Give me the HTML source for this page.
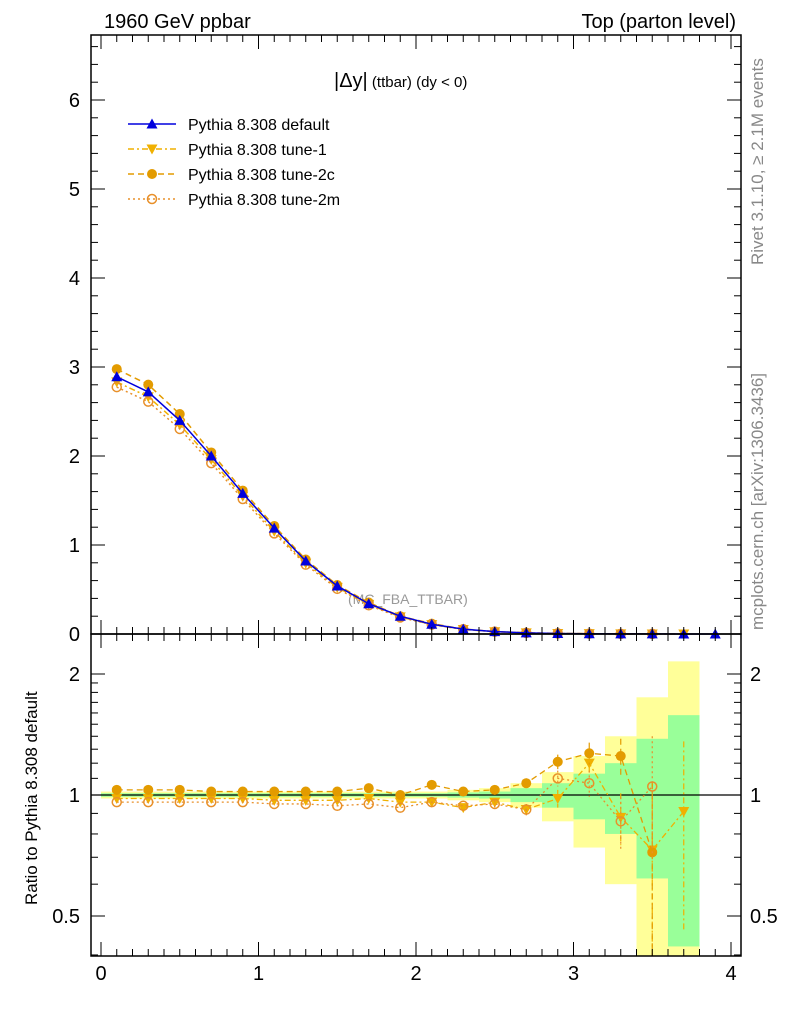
<!DOCTYPE html>
<html><head><meta charset="utf-8"><style>
body{margin:0;background:#fff}
svg{font-family:"Liberation Sans",sans-serif}
</style></head><body>
<svg id="c" width="786" height="1024" viewBox="0 0 786 1024">
<text x="104" y="28" font-size="20">1960 GeV ppbar</text>
<text x="736" y="28" font-size="20" text-anchor="end">Top (parton level)</text>
<text x="0" y="0" font-size="17" fill="#888" transform="translate(763,265) rotate(-90)">Rivet 3.1.10, ≥ 2.1M events</text>
<text x="0" y="0" font-size="17" fill="#888" transform="translate(763,630) rotate(-90)">mcplots.cern.ch [arXiv:1306.3436]</text>
<text x="0" y="0" font-size="17" transform="translate(37,905) rotate(-90)">Ratio to Pythia 8.308 default</text>
<text x="334" y="87" font-size="20">|Δy|<tspan font-size="15"> (ttbar) (dy &lt; 0)</tspan></text>
<text x="348" y="604" font-size="14" fill="#999">(MC_FBA_TTBAR)</text>
<g id="bands"></g><g id="series"></g><g id="axes"></g><g id="legend"></g>
</svg>
<script>
const xs=[0.1,0.3,0.5,0.7,0.9,1.1,1.3,1.5,1.7,1.9,2.1,2.3,2.5,2.7,2.9,3.1,3.3,3.5,3.7,3.9];
const defVals=[2.89,2.72,2.40,2.00,1.58,1.19,0.82,0.54,0.34,0.20,0.11,0.055,0.027,0.013,0.006,0.003,0.0015,0.0008,0.0004,0.0002];
const r1=[0.98,0.98,0.98,0.98,0.98,0.97,0.97,0.97,0.98,0.96,0.96,0.93,0.96,0.92,0.98,1.2,0.88,0.73,0.91,null];
const r2c=[1.03,1.03,1.03,1.02,1.02,1.02,1.02,1.02,1.04,1.0,1.06,1.02,1.03,1.07,1.21,1.27,1.25,0.72,null,null];
const r2m=[0.96,0.96,0.96,0.96,0.96,0.95,0.95,0.94,0.95,0.93,0.96,0.94,0.95,0.92,1.1,1.07,0.86,1.05,null,null];
const rErr=[0.005,0.005,0.005,0.005,0.005,0.006,0.006,0.007,0.008,0.01,0.01,0.015,0.02,0.03,0.05,0.08,0.13,0.35,0.45,0];
const yelUp=[1.02,1.02,1.02,1.02,1.02,1.02,1.02,1.02,1.02,1.02,1.02,1.03,1.04,1.07,1.14,1.25,1.40,1.75,2.15];
const yelDn=[0.98,0.98,0.98,0.98,0.98,0.98,0.98,0.98,0.98,0.98,0.98,0.97,0.96,0.93,0.86,0.74,0.60,0.3,0.3];
const grnUp=[1.01,1.01,1.01,1.01,1.01,1.01,1.01,1.01,1.01,1.01,1.01,1.015,1.02,1.04,1.07,1.13,1.20,1.38,1.58];
const grnDn=[0.99,0.99,0.99,0.99,0.99,0.99,0.99,0.99,0.99,0.99,0.99,0.985,0.98,0.96,0.93,0.87,0.80,0.62,0.42];
const mainTicks=[0,1,2,3,4,5,6];
const ratioTicks=[0.5,1,2];
const xTicks=[0,1,2,3,4];
const L=91,R=741,T=35,MB=634,RB=956;
const X=v=>101+v*157.5;
const Y=v=>634-v*89;
const YR=v=>{let y=795-121*Math.log2(v);return Math.max(T+600,Math.min(RB,y));};
const NS="http://www.w3.org/2000/svg";
function el(t,a,p){const e=document.createElementNS(NS,t);for(const k in a)e.setAttribute(k,a[k]);document.getElementById(p).appendChild(e);return e;}
for(let i=0;i<yelUp.length;i++){
 const x0=X(i*0.2),w=X(0.2)-X(0);
 let e=el('rect',{x:x0,y:YR(yelUp[i]),width:w,height:YR(yelDn[i])-YR(yelUp[i]),fill:'#ffff99'},'bands');
 
 
 e=el('rect',{x:x0,y:YR(grnUp[i]),width:w,height:YR(grnDn[i])-YR(grnUp[i]),fill:'#99ff99'},'bands');
 
 
}
let e=el('line',{x1:L,x2:R,y1:YR(1),y2:YR(1),stroke:'#000','stroke-width':1.2},'bands');


const series=[
 {n:'tune-1',r:r1,c:'#f0b000',dash:'6,3,2,3',m:'tri-down'},
 {n:'tune-2c',r:r2c,c:'#e39b00',dash:'6,4',m:'dot'},
 {n:'tune-2m',r:r2m,c:'#e8902a',dash:'2,3',m:'ring'}];
function marker(m,x,y,c,p,name){
 let e;
 if(m==='dot')e=el('circle',{cx:x,cy:y,r:5,fill:c},p);
 else if(m==='ring')e=el('circle',{cx:x,cy:y,r:4.5,fill:'none',stroke:c,'stroke-width':1.5},p);
 else if(m==='tri-down')e=el('path',{d:`M${x-5.5},${y-4.5}L${x+5.5},${y-4.5}L${x},${y+5.5}Z`,fill:c},p);
 else e=el('path',{d:`M${x-5.5},${y+4.5}L${x+5.5},${y+4.5}L${x},${y-5.5}Z`,fill:c},p);
 
 
}
series.forEach(s=>{
 const pts=xs.map((x,i)=>s.r[i]==null?null:[X(x),Y(defVals[i]*s.r[i])]).filter(p=>p);
 let l=el('polyline',{points:pts.map(p=>p.join(',')).join(' '),fill:'none',stroke:s.c,'stroke-width':1.5,'stroke-dasharray':s.dash},'series');
 
 
 pts.forEach(p=>marker(s.m,p[0],p[1],s.c,'series','main-point-'+s.n));
 const rp=xs.map((x,i)=>s.r[i]==null?null:[X(x),YR(s.r[i]),i]).filter(p=>p);
 l=el('polyline',{points:rp.map(p=>p[0]+','+p[1]).join(' '),fill:'none',stroke:s.c,'stroke-width':1.3,'stroke-dasharray':s.dash},'series');
 
 
 rp.forEach(p=>{
  const i=p[2];
  if(rErr[i]>0.015){const b=el('line',{x1:p[0],x2:p[0],y1:YR(s.r[i]+rErr[i]),y2:YR(Math.max(0.3,s.r[i]-rErr[i])),stroke:s.c,'stroke-width':1.2,'stroke-dasharray':s.dash},'series');
   
   }
  marker(s.m,p[0],p[1],s.c,'series','ratio-point-'+s.n);
 });
});
const dp=xs.map((x,i)=>[X(x),Y(defVals[i])]);
let dl=el('polyline',{points:dp.map(p=>p.join(',')).join(' '),fill:'none',stroke:'#0000dd','stroke-width':1.5},'series');


dp.forEach(p=>marker('tri-up',p[0],p[1],'#0000dd','series','main-point-default'));
['main','ratio'].forEach(k=>{
 const top=k==='main'?T:MB,bot=k==='main'?MB:RB;
 const f=el('rect',{x:L,y:top,width:R-L,height:bot-top,fill:'none',stroke:'#000','stroke-width':1.5},'axes');
 
 
 for(let v=0;v<=4.05;v+=0.1){const big=Math.abs(v-Math.round(v))<1e-6,len=big?14:7;
  el('line',{x1:X(v),x2:X(v),y1:bot,y2:bot-len,stroke:'#000'},'axes');
  el('line',{x1:X(v),x2:X(v),y1:top,y2:top+len,stroke:'#000'},'axes');}
});
for(let v=0;v<=6.7;v+=0.2){const big=Math.abs(v-Math.round(v))<1e-6,len=big?14:7;
 el('line',{x1:L,x2:L+len,y1:Y(v),y2:Y(v),stroke:'#000'},'axes');
 el('line',{x1:R,x2:R-len,y1:Y(v),y2:Y(v),stroke:'#000'},'axes');}
mainTicks.forEach(v=>{const t=el('text',{x:80,y:Y(v)+7,'font-size':20,'text-anchor':'end'},'axes');t.textContent=v;
 
 });
[0.4,0.5,0.6,0.7,0.8,0.9,1,1.1,1.2,1.3,1.4,1.5,1.6,1.7,1.8,1.9,2].forEach(v=>{const big=ratioTicks.includes(v),len=big?14:7;
 el('line',{x1:L,x2:L+len,y1:YR(v),y2:YR(v),stroke:'#000'},'axes');
 el('line',{x1:R,x2:R-len,y1:YR(v),y2:YR(v),stroke:'#000'},'axes');});
ratioTicks.forEach(v=>{let t=el('text',{x:80,y:YR(v)+7,'font-size':20,'text-anchor':'end'},'axes');t.textContent=v;
 
 
 t=el('text',{x:750,y:YR(v)+7,'font-size':20},'axes');t.textContent=v;
 
 });
xTicks.forEach(v=>{const t=el('text',{x:X(v),y:980,'font-size':20,'text-anchor':'middle'},'axes');t.textContent=v;
 
 });
const leg=[['Pythia 8.308 default','#0000dd','','tri-up'],['Pythia 8.308 tune-1','#f0b000','6,3,2,3','tri-down'],['Pythia 8.308 tune-2c','#e39b00','6,4','dot'],['Pythia 8.308 tune-2m','#e8902a','2,3','ring']];
leg.forEach((g,i)=>{const y=124+i*25;
 const l=el('line',{x1:128,x2:176,y1:y,y2:y,stroke:g[1],'stroke-width':1.5,'stroke-dasharray':g[2]},'legend');
 
 
 marker(g[3],152,y,g[1],'legend','legend-marker');
 const t=el('text',{x:188,y:y+6,'font-size':16},'legend');t.textContent=g[0];
 
 });
</script>
</body></html>
